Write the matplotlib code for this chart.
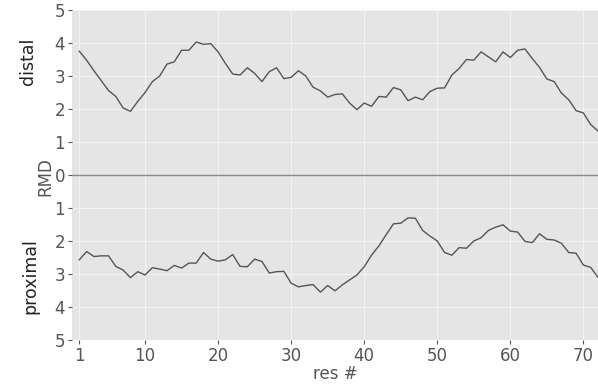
import matplotlib
matplotlib.use("Agg")
import matplotlib.pyplot as plt
import numpy as np

res = list(range(1, 73))
distal = [3.75, 3.48, 3.16, 2.86, 2.56, 2.38, 2.03, 1.93, 2.23, 2.5,
          2.83, 3.0, 3.36, 3.43, 3.78, 3.78, 4.03, 3.96, 3.98, 3.73,
          3.38, 3.06, 3.03, 3.25, 3.08, 2.83, 3.13, 3.25, 2.92, 2.96,
          3.16, 3.0, 2.66, 2.55, 2.36, 2.44, 2.46, 2.18, 1.98, 2.18,
          2.08, 2.38, 2.36, 2.65, 2.58, 2.25, 2.36, 2.28, 2.53, 2.63,
          2.64, 3.03, 3.23, 3.5, 3.48, 3.73, 3.58, 3.43, 3.73, 3.56,
          3.78, 3.82, 3.53, 3.26, 2.91, 2.83, 2.48, 2.28, 1.95, 1.88,
          1.53, 1.33]
proximal = [2.57, 2.32, 2.47, 2.45, 2.45, 2.77, 2.88, 3.11, 2.93, 3.03,
            2.81, 2.85, 2.9, 2.74, 2.82, 2.67, 2.67, 2.35, 2.55, 2.61,
            2.57, 2.41, 2.77, 2.78, 2.55, 2.62, 2.97, 2.93, 2.92, 3.28,
            3.39, 3.35, 3.32, 3.55, 3.35, 3.51, 3.33, 3.18, 3.03, 2.78,
            2.43, 2.15, 1.81, 1.48, 1.46, 1.3, 1.31, 1.68, 1.85, 2.0,
            2.35, 2.43, 2.2, 2.22, 2.0, 1.9, 1.68, 1.58, 1.51, 1.7,
            1.73, 2.01, 2.05, 1.78, 1.95, 1.97, 2.07, 2.35, 2.37, 2.73,
            2.8, 3.1]
xticks = [1, 10, 20, 30, 40, 50, 60, 70]
ytick_vals = list(range(-5, 6))

fig = plt.figure(figsize=(5.98, 3.86), dpi=100)
ax = fig.add_axes([72/598, 46/386, 526/598, 330/386])
ax.set_facecolor("#E5E5E5")
for s in ax.spines.values():
    s.set_visible(False)

ax.plot(res, distal, color="#555555", lw=1.0, zorder=3)
ax.plot(res, [-v for v in proximal], color="#555555", lw=1.0, zorder=3)
ax.axhline(0, color="#888888", lw=1.0, zorder=2)

ax.set_xlim(0, 72)
ax.set_ylim(-5, 5)
ax.set_xticks(xticks)
ax.set_yticks(ytick_vals)
ax.set_yticklabels([str(abs(v)) for v in ytick_vals])
ax.grid(True, color="#F3F3F3", lw=0.8, zorder=1)
ax.set_axisbelow(True)
ax.tick_params(colors="#555555", labelsize=12, length=3, width=0.8, pad=2)
ax.set_xlabel("res #", fontsize=12, color="#555555", labelpad=0)

fig.text(28/598, 1 - 61/386, "distal", rotation=90, fontsize=12.5,
         ha="center", va="center", color="#222222")
fig.text(30/598, 1 - 276/386, "proximal", rotation=90, fontsize=12.5,
         ha="center", va="center", color="#222222")
fig.text(45/598, 1 - 177/386, "RMD", rotation=90, fontsize=12,
         ha="center", va="center", color="#555555")

fig.savefig("out.png", dpi=100)
